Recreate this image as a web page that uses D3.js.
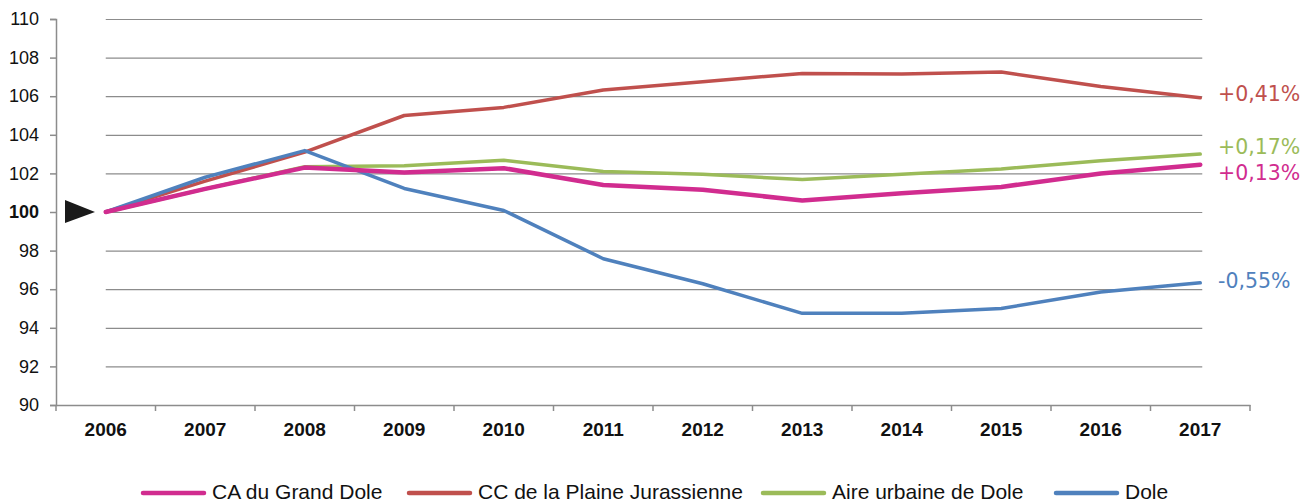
<!DOCTYPE html>
<html><head><meta charset="utf-8">
<script src="https://cdn.jsdelivr.net/npm/d3@7"></script>
<style>body{margin:0;background:#fff}</style>
</head><body>
<script>
const years = ["2006","2007","2008","2009","2010","2011","2012","2013","2014","2015","2016","2017"];
const yTicks = [90,92,94,96,98,100,102,104,106,108,110];
const seriesNames = ["CA du Grand Dole","CC de la Plaine Jurassienne","Aire urbaine de Dole","Dole"];
const caGrandDole = [100,101.2,102.3,102.05,102.27,101.4,101.15,100.6,100.97,101.3,102.0,102.45];
const ccPlaine = [100,101.6,103.1,105.0,105.42,106.32,106.75,107.18,107.15,107.25,106.5,105.92];
const aireUrbaine = [100,101.2,102.35,102.4,102.68,102.1,101.95,101.68,101.95,102.23,102.65,103.0];
const dole = [100,101.8,103.18,101.22,100.08,97.58,96.28,94.75,94.75,95.0,95.85,96.33];
const endLabels = ["+0,13%","+0,41%","+0,17%","-0,55%"];
const colors = ["#D12C8F","#C0504D","#9BBB59","#4F81BD"];

const W=1316,H=504;
const svg=d3.select("body").append("svg").attr("width",W).attr("height",H);
const x=d3.scaleBand().domain(years).range([56,1250]);
const y=d3.scaleLinear().domain([90,110]).range([405,19]);
const xc=d=>x(d)+x.bandwidth()/2;

// gridlines
svg.append("g").selectAll("line").data(yTicks.filter(t=>t>90)).join("line")
  .attr("x1",xc("2006")).attr("x2",xc("2017")+2)
  .attr("y1",d=>y(d)+0.5).attr("y2",d=>y(d)+0.5)
  .attr("stroke","#8c8c8c").attr("stroke-width",1.2);

// y axis
const ya=svg.append("g").attr("transform","translate(56,0)")
  .call(d3.axisLeft(y).tickValues(yTicks).tickSize(6).tickPadding(11));
ya.select(".domain").attr("stroke","#8c8c8c").attr("stroke-width",1.5);
ya.selectAll(".tick line").attr("stroke","#8c8c8c").attr("stroke-width",1.5);
ya.selectAll("text").style("font-family","'Liberation Sans', Arial, sans-serif")
  .style("font-size","18px").attr("fill","#111")
  .style("font-weight",d=>d===100?"bold":"normal");

// x axis
const xa=svg.append("g").attr("transform","translate(0,405)")
  .call(d3.axisBottom(x).tickSize(0).tickPadding(18));
xa.select(".domain").attr("stroke","#8c8c8c").attr("stroke-width",1.5);
xa.selectAll("text").style("font-family","'Liberation Sans', Arial, sans-serif")
  .style("font-size","19px").style("font-weight","bold").attr("fill","#111");
svg.append("g").selectAll("line").data(years.concat(["end"])).join("line")
  .attr("x1",(d,i)=>56+i*x.bandwidth()).attr("x2",(d,i)=>56+i*x.bandwidth())
  .attr("y1",405).attr("y2",411).attr("stroke","#8c8c8c").attr("stroke-width",1.5);

// lines
const data=[caGrandDole,ccPlaine,aireUrbaine,dole];
const widths=[4.5,3.5,3.5,3.5];
const line=d3.line().x((d,i)=>xc(years[i])).y(d=>y(d));
[1,2,3,0].forEach(k=>{
  svg.append("path").datum(data[k]).attr("d",line).attr("fill","none")
    .attr("stroke",colors[k]).attr("stroke-width",widths[k])
    .attr("stroke-linejoin","round").attr("stroke-linecap","round");
});

// arrow marker at 100
const ay=y(100);
svg.append("path").attr("d",`M65,${ay-12}L95,${ay}L65,${ay+11}Z`).attr("fill","#1a1a1a");

// end labels
const labelY=[172.5,93.5,146.5,281];
[1,2,0,3].forEach(k=>{
  svg.append("text").attr("x",1218).attr("y",labelY[k]).attr("dy","0.36em")
    .style("font-family","'DejaVu Sans', Verdana, sans-serif").style("font-size","20.5px")
    .attr("fill",colors[k]).text(endLabels[k]);
});

// legend
const legX=[143,409,763,1056];
seriesNames.forEach((n,k)=>{
  const g=svg.append("g");
  g.append("line").attr("x1",legX[k]).attr("x2",legX[k]+61).attr("y1",493).attr("y2",493)
    .attr("stroke",colors[k]).attr("stroke-width",4.5).attr("stroke-linecap","round");
  g.append("text").attr("x",legX[k]+69).attr("y",499)
    .style("font-family","'Liberation Sans', Arial, sans-serif")
    .style("font-size","21px").attr("fill","#111").text(n);
});
</script>
</body></html>
